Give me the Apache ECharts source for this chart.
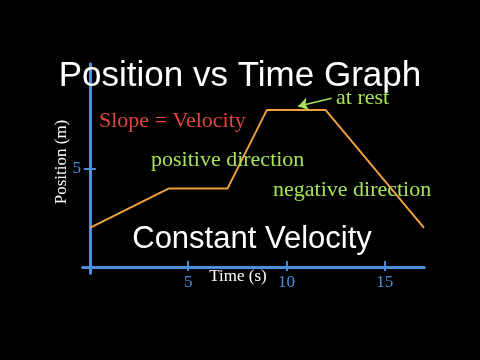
<!DOCTYPE html>
<html><head><meta charset="utf-8">
<script src="https://cdn.jsdelivr.net/npm/echarts@6/dist/echarts.min.js"></script>
<style>html,body{margin:0;padding:0;background:#000}#c{width:480px;height:360px}</style>
</head><body><div id="c"></div>
<script>
const timeValues = [0, 4, 7, 9, 12, 17];
const positionValues = [2, 4, 4, 8, 8, 2];
const xTickLabels = [5, 10, 15];
const yTickLabels = [5];
const arrowFrom = [12.3, 8.6];
const arrowTo = [10.6, 8.2];

const BLUE = '#4a8fdc', ORANGE = '#f0a040', GREEN = '#a6e25a', RED = '#e0463a';
const SERIF = 'Liberation Serif', SANS = 'Liberation Sans';

const xBase = {
  type: 'value', min: -0.35, max: 17, splitLine: {show: false},
  axisLine: {show: true, onZero: true, lineStyle: {color: BLUE, width: 3}}
};
const yBase = {
  type: 'value', min: -0.3, max: 10.35, splitLine: {show: false},
  axisLine: {show: true, onZero: true, lineStyle: {color: BLUE, width: 3}}
};

const chart = echarts.init(document.getElementById('c'));
chart.setOption({
  backgroundColor: '#000',
  animation: false,
  grid: {left: 83, right: 56, top: 64, bottom: 87},
  xAxis: [
    Object.assign({}, xBase, {
      position: 'bottom',
      axisTick: {show: true, inside: false, length: 4, customValues: xTickLabels, lineStyle: {color: BLUE, width: 2}},
      axisLabel: {show: true, customValues: xTickLabels, color: BLUE, fontFamily: SERIF, fontSize: 17, margin: 1}
    }),
    Object.assign({}, xBase, {
      position: 'bottom',
      axisTick: {show: true, inside: true, length: 6, customValues: xTickLabels, lineStyle: {color: BLUE, width: 2}},
      axisLabel: {show: false}
    })
  ],
  yAxis: [
    Object.assign({}, yBase, {
      position: 'left',
      axisTick: {show: true, inside: false, length: 6, customValues: yTickLabels, lineStyle: {color: BLUE, width: 2}},
      axisLabel: {show: true, customValues: yTickLabels, color: BLUE, fontFamily: SERIF, fontSize: 17, margin: 2}
    }),
    Object.assign({}, yBase, {
      position: 'left',
      axisTick: {show: true, inside: true, length: 6, customValues: yTickLabels, lineStyle: {color: BLUE, width: 2}},
      axisLabel: {show: false}
    })
  ],
  series: [{
    type: 'line',
    xAxisIndex: 0, yAxisIndex: 0,
    data: timeValues.map((t, i) => [t, positionValues[i]]),
    showSymbol: false, symbol: 'none',
    lineStyle: {color: ORANGE, width: 2},
    z: 3,
    markLine: {
      silent: true,
      z: 6,
      symbol: ['none', 'arrow'], symbolSize: 10,
      label: {show: false},
      lineStyle: {color: GREEN, width: 1.5, type: 'solid'},
      itemStyle: {color: GREEN},
      data: [[{coord: arrowFrom}, {coord: arrowTo}]]
    }
  }],
  graphic: [
    {type: 'text', left: 'center', top: 59, z: 10,
      style: {text: 'Position vs Time Graph', fill: '#fff', font: '35px "' + SANS + '"'}},
    {type: 'text', x: 252, y: 239, z: 10,
      style: {text: 'Constant Velocity', fill: '#fff', font: '31px "' + SANS + '"', textAlign: 'center', textVerticalAlign: 'middle'}},
    {type: 'text', x: 99, y: 121, z: 10,
      style: {text: 'Slope = Velocity', fill: RED, font: '22px "' + SERIF + '"', textAlign: 'left', textVerticalAlign: 'middle'}},
    {type: 'text', x: 151, y: 160, z: 10,
      style: {text: 'positive direction', fill: GREEN, font: '22px "' + SERIF + '"', textAlign: 'left', textVerticalAlign: 'middle'}},
    {type: 'text', x: 273, y: 190, z: 10,
      style: {text: 'negative direction', fill: GREEN, font: '22px "' + SERIF + '"', textAlign: 'left', textVerticalAlign: 'middle'}},
    {type: 'text', x: 336, y: 98, z: 10,
      style: {text: 'at rest', fill: GREEN, font: '22px "' + SERIF + '"', textAlign: 'left', textVerticalAlign: 'middle'}},
    {type: 'text', x: 238, y: 277, z: 10,
      style: {text: 'Time (s)', fill: '#fff', font: '17px "' + SERIF + '"', textAlign: 'center', textVerticalAlign: 'middle'}},
    {type: 'text', x: 62, y: 162, rotation: Math.PI / 2, z: 10,
      style: {text: 'Position (m)', fill: '#fff', font: '17px "' + SERIF + '"', textAlign: 'center', textVerticalAlign: 'middle'}}
  ]
});
</script></body></html>
